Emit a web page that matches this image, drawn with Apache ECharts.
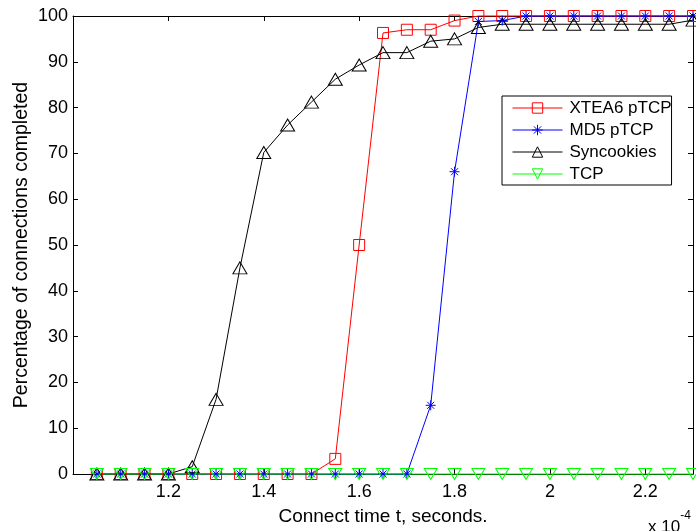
<!DOCTYPE html>
<html>
<head>
<meta charset="utf-8">
<script src="https://cdn.jsdelivr.net/npm/echarts@6/dist/echarts.min.js"></script>
<style>
html,body{margin:0;padding:0;background:#fff;}
#chart{width:696px;height:531px;}
</style>
</head>
<body>
<div id="chart"></div>
<script>
// Connect time t (x 10^-4 s)
var connectTime = [1.05,1.10,1.15,1.20,1.25,1.30,1.35,1.40,1.45,1.50,1.55,1.60,1.65,1.70,1.75,1.80,1.85,1.90,1.95,2.00,2.05,2.10,2.15,2.20,2.25,2.30];
var xtea6 = [0,0,0,0,0,0,0,0,0,0,3.3,50,96.3,97,97,99,100,100,100,100,100,100,100,100,100,100];
var md5 = [0,0,0,0,0,0,0,0,0,0,0,0,0,0,15,66,98.8,99,100,100,100,100,100,100,100,100];
var syncookies = [0,0,0,0,1.6,16.3,45,70.2,76.2,81.2,86.2,89.3,92,92,94.5,95,97.5,98.2,98.2,98.2,98.2,98.2,98.2,98.2,98.2,99.1];
var tcp = [0,0,0,0,0,0,0,0,0,0,0,0,0,0,0,0,0,0,0,0,0,0,0,0,0,0];
var seriesNames = ['XTEA6 pTCP','MD5 pTCP','Syncookies','TCP'];
var xTickLabels = ['1.2','1.4','1.6','1.8','2','2.2'];
var yTickLabels = ['0','10','20','30','40','50','60','70','80','90','100'];

function pairs(ys){ return connectTime.map(function(x,i){ return [x, ys[i]]; }); }

var FONT = '"Liberation Sans", Arial, Helvetica, sans-serif';
var chart = echarts.init(document.getElementById('chart'), null, {renderer:'canvas'});

var starPath = 'path://M0,-5L0,5M-5,0L5,0M-3.5,-3.5L3.5,3.5M-3.5,3.5L3.5,-3.5';
var downTri = 'path://M0,10L-6,0L6,0Z';

function mkSeries(name, data, color, symbol, size){
  return {
    name: name, type: 'line', data: pairs(data),
    symbol: symbol, symbolSize: size, showAllSymbol: true,
    clip: false,
    lineStyle: {color: color, width: 1},
    itemStyle: {color: 'rgba(255,255,255,0)', borderColor: color, borderWidth: 1},
    emphasis: {disabled: true},
    animation: false
  };
}

var axisLine = {show:true, onZero:false, lineStyle:{color:'#000', width:1}};
var tickFmtX = function(v){
  var s = String(+v.toFixed(1));
  return xTickLabels.indexOf(s) >= 0 ? s : '';
};
var tickFmtY = function(v){
  var s = String(Math.round(v));
  return yTickLabels.indexOf(s) >= 0 ? s : '';
};

chart.setOption({
  animation: false,
  backgroundColor: '#fff',
  grid: {left: 73, top: 16, right: 3, bottom: 57, containLabel: false},
  xAxis: [{
    type: 'value', min: 1.0, max: 2.3, interval: 0.2, position: 'bottom',
    axisLine: axisLine,
    axisTick: {show:true, inside:true, length:5, lineStyle:{color:'#000'}},
    axisLabel: {color:'#000', fontSize:18, fontFamily:FONT, margin:9, formatter: tickFmtX, showMaxLabel:false},
    splitLine: {show:false},
    name: 'Connect time t, seconds.', nameLocation:'middle', nameGap: 33,
    nameTextStyle: {color:'#000', fontSize:19, fontFamily:FONT}
  },{
    type: 'value', min: 1.0, max: 2.3, interval: 0.2, position: 'top',
    axisLine: axisLine,
    axisTick: {show:true, inside:true, length:5, lineStyle:{color:'#000'}},
    axisLabel: {show:false}, splitLine: {show:false}
  }],
  yAxis: [{
    type: 'value', min: 0, max: 100, interval: 10, position: 'left',
    axisLine: axisLine,
    axisTick: {show:true, inside:true, length:5, lineStyle:{color:'#000'}},
    axisLabel: {color:'#000', fontSize:18, fontFamily:FONT, margin:5, formatter: tickFmtY},
    splitLine: {show:false},
    name: 'Percentage of connections completed', nameLocation:'middle', nameGap: 41,
    nameMoveOverlap: false,
    nameTextStyle: {color:'#000', fontSize:19.5, fontFamily:FONT}
  },{
    type: 'value', min: 0, max: 100, interval: 10, position: 'right',
    axisLine: axisLine,
    axisTick: {show:true, inside:true, length:5, lineStyle:{color:'#000'}},
    axisLabel: {show:false}, splitLine: {show:false}
  }],
  legend: {
    orient: 'vertical', left: 502, top: 96,
    data: seriesNames,
    itemWidth: 50, itemHeight: 13, itemGap: 0,
    padding: [1, 0, 0, 10],
    borderColor: '#000', borderWidth: 1, backgroundColor: '#fff',
    itemStyle: {borderWidth: 1},
    lineStyle: {width: 1},
    textStyle: {color:'#000', fontSize:17, fontFamily:FONT, lineHeight:22, padding:[0,0,0,2]}
  },
  graphic: [{
    type: 'text', left: 648, top: 510,
    style: {
      text: '{a|x 10}{b|-4}',
      rich: {
        a: {fontSize:17, fontFamily:FONT, fill:'#000', verticalAlign:'bottom'},
        b: {fontSize:12, fontFamily:FONT, fill:'#000', verticalAlign:'top', padding:[0,0,14,0]}
      }
    }
  }],
  series: [
    mkSeries(seriesNames[0], xtea6, '#ff0000', 'rect', 11),
    mkSeries(seriesNames[1], md5, '#0000ff', starPath, 10),
    mkSeries(seriesNames[2], syncookies, '#000000', 'triangle', [14,12]),
    mkSeries(seriesNames[3], tcp, '#00ff00', downTri, [13,11])
  ]
});
</script>
</body>
</html>
